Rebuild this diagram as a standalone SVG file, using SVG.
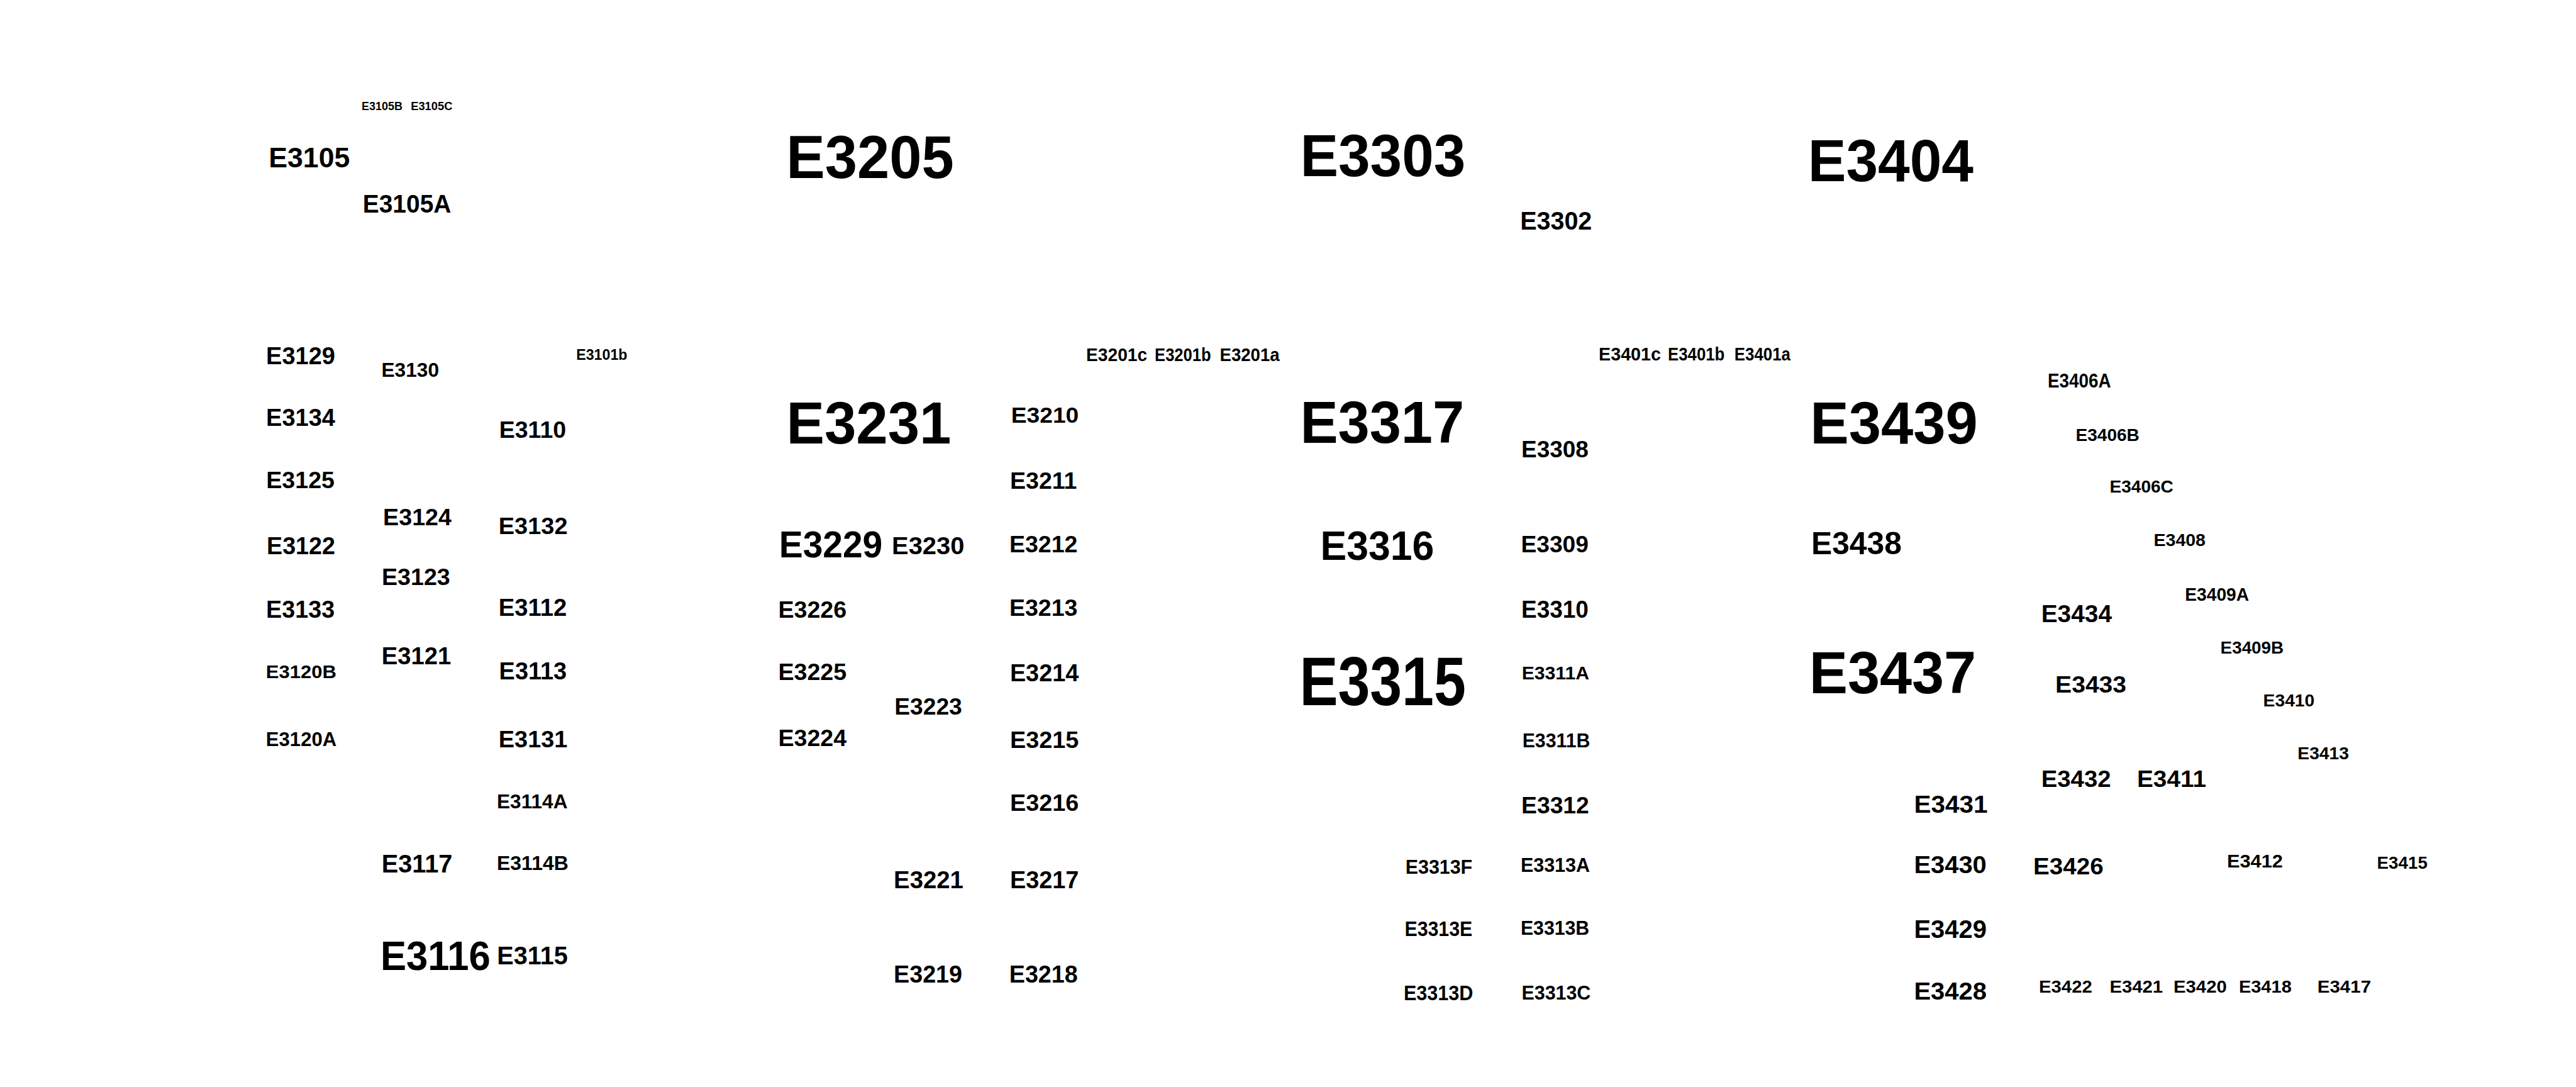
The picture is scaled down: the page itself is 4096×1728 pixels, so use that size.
<svg xmlns="http://www.w3.org/2000/svg" width="4096" height="1728" viewBox="0 0 4096 1728">
<style>
.t{font-family:"Liberation Sans",Arial,Helvetica,sans-serif;font-weight:bold;fill:#000}
</style>
<rect width="4096" height="1728" fill="#fff"/>
<g id="connectors"/>
<g id="nodes">
<g id="n-E3105B"><text class="t" x="575.1" y="175.4" font-size="19" textLength="65" lengthAdjust="spacingAndGlyphs">E3105B</text></g>
<g id="n-E3105C"><text class="t" x="653.2" y="175.4" font-size="19" textLength="66.3" lengthAdjust="spacingAndGlyphs">E3105C</text></g>
<g id="n-E3105"><text class="t" x="427.2" y="266.4" font-size="45" textLength="129.1" lengthAdjust="spacingAndGlyphs">E3105</text></g>
<g id="n-E3105A"><text class="t" x="576.7" y="337.9" font-size="41" textLength="140.8" lengthAdjust="spacingAndGlyphs">E3105A</text></g>
<g id="n-E3129"><text class="t" x="423.1" y="578.9" font-size="38.3" textLength="109.9" lengthAdjust="spacingAndGlyphs">E3129</text></g>
<g id="n-E3130"><text class="t" x="606.4" y="598.6" font-size="30.7" textLength="91.7" lengthAdjust="spacingAndGlyphs">E3130</text></g>
<g id="n-E3101b"><text class="t" x="916.2" y="571.8" font-size="24" textLength="81.3" lengthAdjust="spacingAndGlyphs">E3101b</text></g>
<g id="n-E3134"><text class="t" x="423.1" y="677.1" font-size="38.3" textLength="109.9" lengthAdjust="spacingAndGlyphs">E3134</text></g>
<g id="n-E3110"><text class="t" x="793.7" y="696.4" font-size="36.7" textLength="106.5" lengthAdjust="spacingAndGlyphs">E3110</text></g>
<g id="n-E3125"><text class="t" x="423.2" y="775.7" font-size="36.7" textLength="108.8" lengthAdjust="spacingAndGlyphs">E3125</text></g>
<g id="n-E3124"><text class="t" x="609.1" y="834.6" font-size="37.7" textLength="108.9" lengthAdjust="spacingAndGlyphs">E3124</text></g>
<g id="n-E3132"><text class="t" x="792.8" y="849.3" font-size="37.3" textLength="109.8" lengthAdjust="spacingAndGlyphs">E3132</text></g>
<g id="n-E3122"><text class="t" x="424" y="881.1" font-size="38.3" textLength="109" lengthAdjust="spacingAndGlyphs">E3122</text></g>
<g id="n-E3123"><text class="t" x="606.9" y="930.4" font-size="37.3" textLength="108.9" lengthAdjust="spacingAndGlyphs">E3123</text></g>
<g id="n-E3133"><text class="t" x="423.1" y="982.1" font-size="38.1" textLength="109" lengthAdjust="spacingAndGlyphs">E3133</text></g>
<g id="n-E3112"><text class="t" x="792.7" y="978.6" font-size="38.3" textLength="108.5" lengthAdjust="spacingAndGlyphs">E3112</text></g>
<g id="n-E3120B"><text class="t" x="422.8" y="1077.9" font-size="29.7" textLength="112.2" lengthAdjust="spacingAndGlyphs">E3120B</text></g>
<g id="n-E3121"><text class="t" x="606.8" y="1056.1" font-size="38.3" textLength="110.5" lengthAdjust="spacingAndGlyphs">E3121</text></g>
<g id="n-E3113"><text class="t" x="793.6" y="1079.6" font-size="38.1" textLength="107.6" lengthAdjust="spacingAndGlyphs">E3113</text></g>
<g id="n-E3120A"><text class="t" x="422.8" y="1185.7" font-size="30.6" textLength="112.4" lengthAdjust="spacingAndGlyphs">E3120A</text></g>
<g id="n-E3131"><text class="t" x="792.8" y="1187.5" font-size="37.3" textLength="109.6" lengthAdjust="spacingAndGlyphs">E3131</text></g>
<g id="n-E3114A"><text class="t" x="790" y="1284.5" font-size="30.9" textLength="112.5" lengthAdjust="spacingAndGlyphs">E3114A</text></g>
<g id="n-E3117"><text class="t" x="606.7" y="1387.3" font-size="40.3" textLength="112.7" lengthAdjust="spacingAndGlyphs">E3117</text></g>
<g id="n-E3114B"><text class="t" x="790" y="1383" font-size="31.7" textLength="113.8" lengthAdjust="spacingAndGlyphs">E3114B</text></g>
<g id="n-E3116"><text class="t" x="604.9" y="1542.2" font-size="65" textLength="175" lengthAdjust="spacingAndGlyphs">E3116</text></g>
<g id="n-E3115"><text class="t" x="790.3" y="1533.2" font-size="40.3" textLength="112.5" lengthAdjust="spacingAndGlyphs">E3115</text></g>

<g id="n-E3205"><text class="t" x="1250.3" y="282.5" font-size="97" textLength="266.5" lengthAdjust="spacingAndGlyphs">E3205</text></g>
<g id="n-E3201c"><text class="t" x="1727.1" y="573.6" font-size="29.6" textLength="97" lengthAdjust="spacingAndGlyphs">E3201c</text></g>
<g id="n-E3201b"><text class="t" x="1836.1" y="573.6" font-size="29.6" textLength="89.5" lengthAdjust="spacingAndGlyphs">E3201b</text></g>
<g id="n-E3201a"><text class="t" x="1939.5" y="573.6" font-size="29.6" textLength="95.1" lengthAdjust="spacingAndGlyphs">E3201a</text></g>
<g id="n-E3210"><text class="t" x="1607.8" y="671.8" font-size="35.7" textLength="107.4" lengthAdjust="spacingAndGlyphs">E3210</text></g>
<g id="n-E3231"><text class="t" x="1250.5" y="705.4" font-size="94" textLength="262" lengthAdjust="spacingAndGlyphs">E3231</text></g>
<g id="n-E3211"><text class="t" x="1606" y="776.8" font-size="36.8" textLength="106.5" lengthAdjust="spacingAndGlyphs">E3211</text></g>
<g id="n-E3229"><text class="t" x="1238.7" y="885.7" font-size="58.7" textLength="164.5" lengthAdjust="spacingAndGlyphs">E3229</text></g>
<g id="n-E3230"><text class="t" x="1418.1" y="881.4" font-size="39.7" textLength="115.3" lengthAdjust="spacingAndGlyphs">E3230</text></g>
<g id="n-E3212"><text class="t" x="1604.9" y="877.9" font-size="37.3" textLength="108.6" lengthAdjust="spacingAndGlyphs">E3212</text></g>
<g id="n-E3226"><text class="t" x="1237.5" y="982.1" font-size="36.7" textLength="108.6" lengthAdjust="spacingAndGlyphs">E3226</text></g>
<g id="n-E3213"><text class="t" x="1604.9" y="978.6" font-size="36.7" textLength="108.5" lengthAdjust="spacingAndGlyphs">E3213</text></g>
<g id="n-E3225"><text class="t" x="1237.5" y="1081.1" font-size="36.7" textLength="108.6" lengthAdjust="spacingAndGlyphs">E3225</text></g>
<g id="n-E3214"><text class="t" x="1605.9" y="1082.9" font-size="37.9" textLength="109.4" lengthAdjust="spacingAndGlyphs">E3214</text></g>
<g id="n-E3223"><text class="t" x="1422.3" y="1135.7" font-size="36.7" textLength="107.5" lengthAdjust="spacingAndGlyphs">E3223</text></g>
<g id="n-E3224"><text class="t" x="1237.5" y="1186.4" font-size="36.7" textLength="108.6" lengthAdjust="spacingAndGlyphs">E3224</text></g>
<g id="n-E3215"><text class="t" x="1606" y="1188.6" font-size="37.3" textLength="109.3" lengthAdjust="spacingAndGlyphs">E3215</text></g>
<g id="n-E3216"><text class="t" x="1606" y="1288.8" font-size="37" textLength="109.3" lengthAdjust="spacingAndGlyphs">E3216</text></g>
<g id="n-E3221"><text class="t" x="1421.1" y="1412.2" font-size="38.9" textLength="110.8" lengthAdjust="spacingAndGlyphs">E3221</text></g>
<g id="n-E3217"><text class="t" x="1605.9" y="1412.2" font-size="38.9" textLength="109.5" lengthAdjust="spacingAndGlyphs">E3217</text></g>
<g id="n-E3219"><text class="t" x="1421.1" y="1562.1" font-size="38.9" textLength="108.9" lengthAdjust="spacingAndGlyphs">E3219</text></g>
<g id="n-E3218"><text class="t" x="1604.8" y="1562.1" font-size="38.9" textLength="108.8" lengthAdjust="spacingAndGlyphs">E3218</text></g>

<g id="n-E3303"><text class="t" x="2067.5" y="280" font-size="94.9" textLength="262.7" lengthAdjust="spacingAndGlyphs">E3303</text></g>
<g id="n-E3302"><text class="t" x="2417.2" y="364.6" font-size="40.7" textLength="114.1" lengthAdjust="spacingAndGlyphs">E3302</text></g>
<g id="n-E3401c"><text class="t" x="2542.1" y="572.9" font-size="29.7" textLength="98.8" lengthAdjust="spacingAndGlyphs">E3401c</text></g>
<g id="n-E3401b"><text class="t" x="2652.1" y="572.9" font-size="29.7" textLength="90.2" lengthAdjust="spacingAndGlyphs">E3401b</text></g>
<g id="n-E3401a"><text class="t" x="2757.8" y="572.9" font-size="29.7" textLength="89.1" lengthAdjust="spacingAndGlyphs">E3401a</text></g>
<g id="n-E3317"><text class="t" x="2067.5" y="703.6" font-size="93.9" textLength="260.6" lengthAdjust="spacingAndGlyphs">E3317</text></g>
<g id="n-E3308"><text class="t" x="2419.1" y="726.8" font-size="37.3" textLength="106.7" lengthAdjust="spacingAndGlyphs">E3308</text></g>
<g id="n-E3316"><text class="t" x="2099.5" y="890" font-size="64.9" textLength="180.7" lengthAdjust="spacingAndGlyphs">E3316</text></g>
<g id="n-E3309"><text class="t" x="2418.6" y="877.9" font-size="37.3" textLength="107.2" lengthAdjust="spacingAndGlyphs">E3309</text></g>
<g id="n-E3310"><text class="t" x="2419" y="982.1" font-size="38.1" textLength="106.8" lengthAdjust="spacingAndGlyphs">E3310</text></g>
<g id="n-E3315"><text class="t" x="2066.4" y="1121.4" font-size="109.7" textLength="264.4" lengthAdjust="spacingAndGlyphs">E3315</text></g>
<g id="n-E3311A"><text class="t" x="2419.7" y="1080.4" font-size="29.1" textLength="107.3" lengthAdjust="spacingAndGlyphs">E3311A</text></g>
<g id="n-E3311B"><text class="t" x="2420.7" y="1187.5" font-size="30.6" textLength="107.6" lengthAdjust="spacingAndGlyphs">E3311B</text></g>
<g id="n-E3312"><text class="t" x="2419.1" y="1292.8" font-size="37" textLength="107.7" lengthAdjust="spacingAndGlyphs">E3312</text></g>
<g id="n-E3313F"><text class="t" x="2234.7" y="1389" font-size="30.9" textLength="106.5" lengthAdjust="spacingAndGlyphs">E3313F</text></g>
<g id="n-E3313A"><text class="t" x="2417.9" y="1386.3" font-size="31.7" textLength="110.1" lengthAdjust="spacingAndGlyphs">E3313A</text></g>
<g id="n-E3313E"><text class="t" x="2233.5" y="1487.8" font-size="32.3" textLength="107.7" lengthAdjust="spacingAndGlyphs">E3313E</text></g>
<g id="n-E3313B"><text class="t" x="2417.9" y="1485.8" font-size="31.7" textLength="109.3" lengthAdjust="spacingAndGlyphs">E3313B</text></g>
<g id="n-E3313D"><text class="t" x="2231.9" y="1589.6" font-size="33.1" textLength="110.4" lengthAdjust="spacingAndGlyphs">E3313D</text></g>
<g id="n-E3313C"><text class="t" x="2419.5" y="1588.6" font-size="31.7" textLength="109.8" lengthAdjust="spacingAndGlyphs">E3313C</text></g>

<g id="n-E3404"><text class="t" x="2874.7" y="287.9" font-size="94.4" textLength="263.2" lengthAdjust="spacingAndGlyphs">E3404</text></g>
<g id="n-E3406A"><text class="t" x="3256.1" y="615.7" font-size="30.6" textLength="100.4" lengthAdjust="spacingAndGlyphs">E3406A</text></g>
<g id="n-E3439"><text class="t" x="2878.2" y="705.4" font-size="94" textLength="266.6" lengthAdjust="spacingAndGlyphs">E3439</text></g>
<g id="n-E3406B"><text class="t" x="3300.5" y="700.7" font-size="27.6" textLength="101.3" lengthAdjust="spacingAndGlyphs">E3406B</text></g>
<g id="n-E3406C"><text class="t" x="3354.5" y="782.9" font-size="27.6" textLength="101.3" lengthAdjust="spacingAndGlyphs">E3406C</text></g>
<g id="n-E3438"><text class="t" x="2880" y="881.4" font-size="50" textLength="143.9" lengthAdjust="spacingAndGlyphs">E3438</text></g>
<g id="n-E3408"><text class="t" x="3424.5" y="867.9" font-size="28.1" textLength="82.5" lengthAdjust="spacingAndGlyphs">E3408</text></g>
<g id="n-E3409A"><text class="t" x="3474.3" y="955.4" font-size="29.1" textLength="101.8" lengthAdjust="spacingAndGlyphs">E3409A</text></g>
<g id="n-E3434"><text class="t" x="3245.7" y="988.6" font-size="38.3" textLength="112.3" lengthAdjust="spacingAndGlyphs">E3434</text></g>
<g id="n-E3409B"><text class="t" x="3530.6" y="1038.6" font-size="27.1" textLength="100.6" lengthAdjust="spacingAndGlyphs">E3409B</text></g>
<g id="n-E3437"><text class="t" x="2876.7" y="1101.8" font-size="95.4" textLength="265.4" lengthAdjust="spacingAndGlyphs">E3437</text></g>
<g id="n-E3433"><text class="t" x="3268.1" y="1100.7" font-size="37.7" textLength="113" lengthAdjust="spacingAndGlyphs">E3433</text></g>
<g id="n-E3410"><text class="t" x="3598.6" y="1123.2" font-size="27" textLength="81.7" lengthAdjust="spacingAndGlyphs">E3410</text></g>
<g id="n-E3413"><text class="t" x="3653.3" y="1207" font-size="27.1" textLength="81.7" lengthAdjust="spacingAndGlyphs">E3413</text></g>
<g id="n-E3432"><text class="t" x="3245.8" y="1251.3" font-size="36.4" textLength="110.7" lengthAdjust="spacingAndGlyphs">E3432</text></g>
<g id="n-E3411"><text class="t" x="3398" y="1251.3" font-size="36.4" textLength="110" lengthAdjust="spacingAndGlyphs">E3411</text></g>
<g id="n-E3431"><text class="t" x="3043.5" y="1292.1" font-size="39.3" textLength="117" lengthAdjust="spacingAndGlyphs">E3431</text></g>
<g id="n-E3430"><text class="t" x="3043.5" y="1388.3" font-size="39.3" textLength="115.3" lengthAdjust="spacingAndGlyphs">E3430</text></g>
<g id="n-E3426"><text class="t" x="3233.1" y="1389.9" font-size="36.9" textLength="111.6" lengthAdjust="spacingAndGlyphs">E3426</text></g>
<g id="n-E3412"><text class="t" x="3540.9" y="1379" font-size="29.9" textLength="89" lengthAdjust="spacingAndGlyphs">E3412</text></g>
<g id="n-E3415"><text class="t" x="3779.6" y="1381.3" font-size="27" textLength="80.3" lengthAdjust="spacingAndGlyphs">E3415</text></g>
<g id="n-E3429"><text class="t" x="3043.5" y="1490.8" font-size="39.9" textLength="115.4" lengthAdjust="spacingAndGlyphs">E3429</text></g>
<g id="n-E3428"><text class="t" x="3043.5" y="1588.6" font-size="39.7" textLength="115.4" lengthAdjust="spacingAndGlyphs">E3428</text></g>
<g id="n-E3422"><text class="t" x="3242.1" y="1578" font-size="28.4" textLength="84.6" lengthAdjust="spacingAndGlyphs">E3422</text></g>
<g id="n-E3421"><text class="t" x="3354.4" y="1578" font-size="28.4" textLength="84.8" lengthAdjust="spacingAndGlyphs">E3421</text></g>
<g id="n-E3420"><text class="t" x="3456.1" y="1578" font-size="28.4" textLength="84.6" lengthAdjust="spacingAndGlyphs">E3420</text></g>
<g id="n-E3418"><text class="t" x="3559.9" y="1578" font-size="28.4" textLength="83.9" lengthAdjust="spacingAndGlyphs">E3418</text></g>
<g id="n-E3417"><text class="t" x="3684.8" y="1578" font-size="28.4" textLength="85.3" lengthAdjust="spacingAndGlyphs">E3417</text></g>
</g>
</svg>
